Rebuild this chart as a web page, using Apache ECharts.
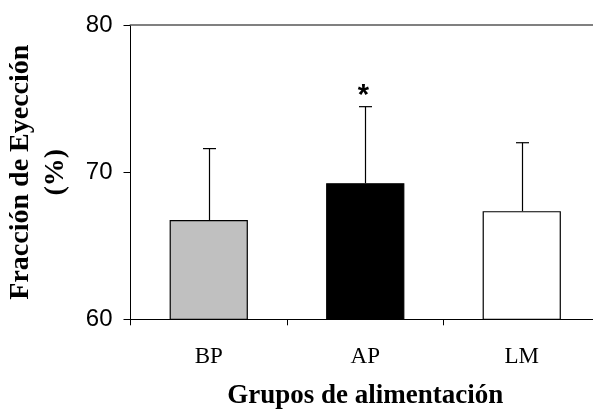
<!DOCTYPE html>
<html>
<head>
<meta charset="utf-8">
<script src="https://cdn.jsdelivr.net/npm/echarts@6/dist/echarts.min.js"></script>
<style>html,body{margin:0;padding:0;background:#fff;}#c{width:593px;height:411px;}</style>
</head>
<body>
<div id="c"></div>
<script>
var categories = ['BP', 'AP', 'LM'];
var means = [66.75, 69.25, 67.35];
var sdUpper = [4.85, 5.2, 4.65];
var significance = ['', '*', ''];
var barColors = ['#c0c0c0', '#000000', '#ffffff'];
var yTicks = [60, 70, 80];

var chart = echarts.init(document.getElementById('c'));
chart.setOption({
  animation: false,
  backgroundColor: '#fff',
  grid: { left: 130.5, right: -7, top: 25, bottom: 91.7, outerBoundsMode: 'none', containLabel: false },
  xAxis: [{
    type: 'category',
    data: categories,
    axisLine: { lineStyle: { color: '#000', width: 1 } },
    axisTick: { show: true, length: 6, lineStyle: { color: '#000' } },
    axisLabel: { fontFamily: 'Liberation Serif', fontSize: 23, color: '#000', margin: 26 },
    name: 'Grupos de alimentación',
    nameLocation: 'middle',
    nameGap: 63,
    nameTextStyle: { fontFamily: 'Liberation Serif', fontWeight: 'bold', fontSize: 27, color: '#000' }
  }, {
    type: 'category',
    data: categories,
    position: 'top',
    axisLine: { lineStyle: { color: '#808080', width: 2 } },
    axisTick: { show: false },
    axisLabel: { show: false }
  }],
  yAxis: {
    type: 'value',
    min: yTicks[0],
    max: yTicks[yTicks.length - 1],
    interval: 10,
    axisLine: { show: true, lineStyle: { color: '#000', width: 1 } },
    axisTick: { show: true, length: 7, lineStyle: { color: '#000' } },
    splitLine: { show: false },
    axisLabel: { fontFamily: 'Liberation Sans', fontSize: 24, color: '#000', margin: 18 },
    name: 'Fracción de Eyección\n(%)',
    nameLocation: 'middle',
    nameGap: 57,
    nameTextStyle: { fontFamily: 'Liberation Serif', fontWeight: 'bold', fontSize: 28, color: '#000', lineHeight: 35 }
  },
  series: [{
    type: 'bar',
    data: means.map(function (v, i) {
      return { value: v, itemStyle: { color: barColors[i], borderColor: '#000', borderWidth: 1.2 } };
    }),
    barWidth: '50%',
    z: 2
  }, {
    type: 'custom',
    z: 3,
    renderItem: function (params, api) {
      var i = api.value(0);
      var mean = api.value(1);
      var up = api.value(2);
      var top = api.coord([i, mean + up]);
      var base = api.coord([i, mean]);
      var x = Math.round(top[0]) + 0.5;
      var children = [
        { type: 'line', shape: { x1: x, y1: base[1], x2: x, y2: top[1] }, style: { stroke: '#000', lineWidth: 1.2 } },
        { type: 'line', shape: { x1: x - 6.5, y1: top[1], x2: x + 6.5, y2: top[1] }, style: { stroke: '#000', lineWidth: 1.2 } }
      ];
      var s = significance[i];
      if (s) {
        children.push({ type: 'text', style: { text: s, x: x - 2, y: top[1] + 4, align: 'center', verticalAlign: 'bottom', font: 'bold 29px "Liberation Sans"', fill: '#000' } });
      }
      return { type: 'group', children: children };
    },
    data: means.map(function (v, i) { return [i, v, sdUpper[i]]; })
  }]
});
</script>
</body>
</html>
